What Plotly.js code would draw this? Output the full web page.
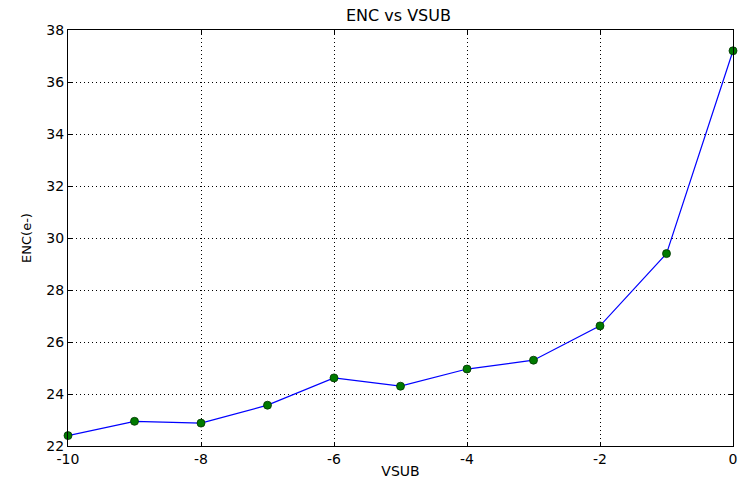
<!DOCTYPE html>
<html>
<head>
<meta charset="utf-8">
<script src="https://cdn.plot.ly/plotly-3.0.1.min.js"></script>
<style>html,body{margin:0;padding:0;background:#fff;}#chart{width:742px;height:479px;}</style>
</head>
<body>
<div id="chart"></div>
<script>
const vsub = [-10, -9, -8, -7, -6, -5, -4, -3, -2, -1, 0];
const enc = [22.40, 22.95, 22.88, 23.57, 24.62, 24.30, 24.96, 25.30, 26.62, 29.40, 37.20];
const xTicks = [-10, -8, -6, -4, -2, 0];
const yTicks = [22, 24, 26, 28, 30, 32, 34, 36, 38];

const font = "DejaVu Sans, sans-serif";
Plotly.newPlot('chart', [{
  x: vsub, y: enc, type: 'scatter', mode: 'lines+markers',
  line: {color: '#0000ff', width: 1.2},
  marker: {color: '#007a00', size: 8, line: {color: '#003300', width: 0.8}},
  cliponaxis: false
}], {
  width: 742, height: 479,
  margin: {l: 68, r: 9, t: 30, b: 33},
  paper_bgcolor: '#fff', plot_bgcolor: '#fff',
  showlegend: false,
  font: {family: font, color: '#000'},
  title: {text: 'ENC vs VSUB', font: {family: font, size: 16, color: '#000'}, x: 0.537, xanchor: 'center', y: 0.968, yanchor: 'middle'},
  xaxis: {
    range: [-10, 0], tickvals: xTicks, ticktext: xTicks.map(String),
    showline: true, mirror: 'ticks', linecolor: '#000', linewidth: 1,
    ticks: 'inside', ticklen: 4, tickcolor: '#000',
    showgrid: true, gridcolor: '#000', griddash: '1px,3px', gridwidth: 1,
    zeroline: false, tickfont: {size: 14, family: font},
    title: {text: 'VSUB', font: {size: 14, family: font}, standoff: 2},
    automargin: false
  },
  yaxis: {
    range: [22, 38], tickvals: yTicks, ticktext: yTicks.map(String),
    showline: true, mirror: 'ticks', linecolor: '#000', linewidth: 1,
    ticks: 'inside', ticklen: 4, tickcolor: '#000',
    showgrid: true, gridcolor: '#000', griddash: '1px,3px', gridwidth: 1,
    zeroline: false, tickfont: {size: 14, family: font},
    title: {text: 'ENC(e-)', font: {size: 13, family: font}, standoff: 11},
    automargin: false
  }
}, {staticPlot: true});
</script>
</body>
</html>
